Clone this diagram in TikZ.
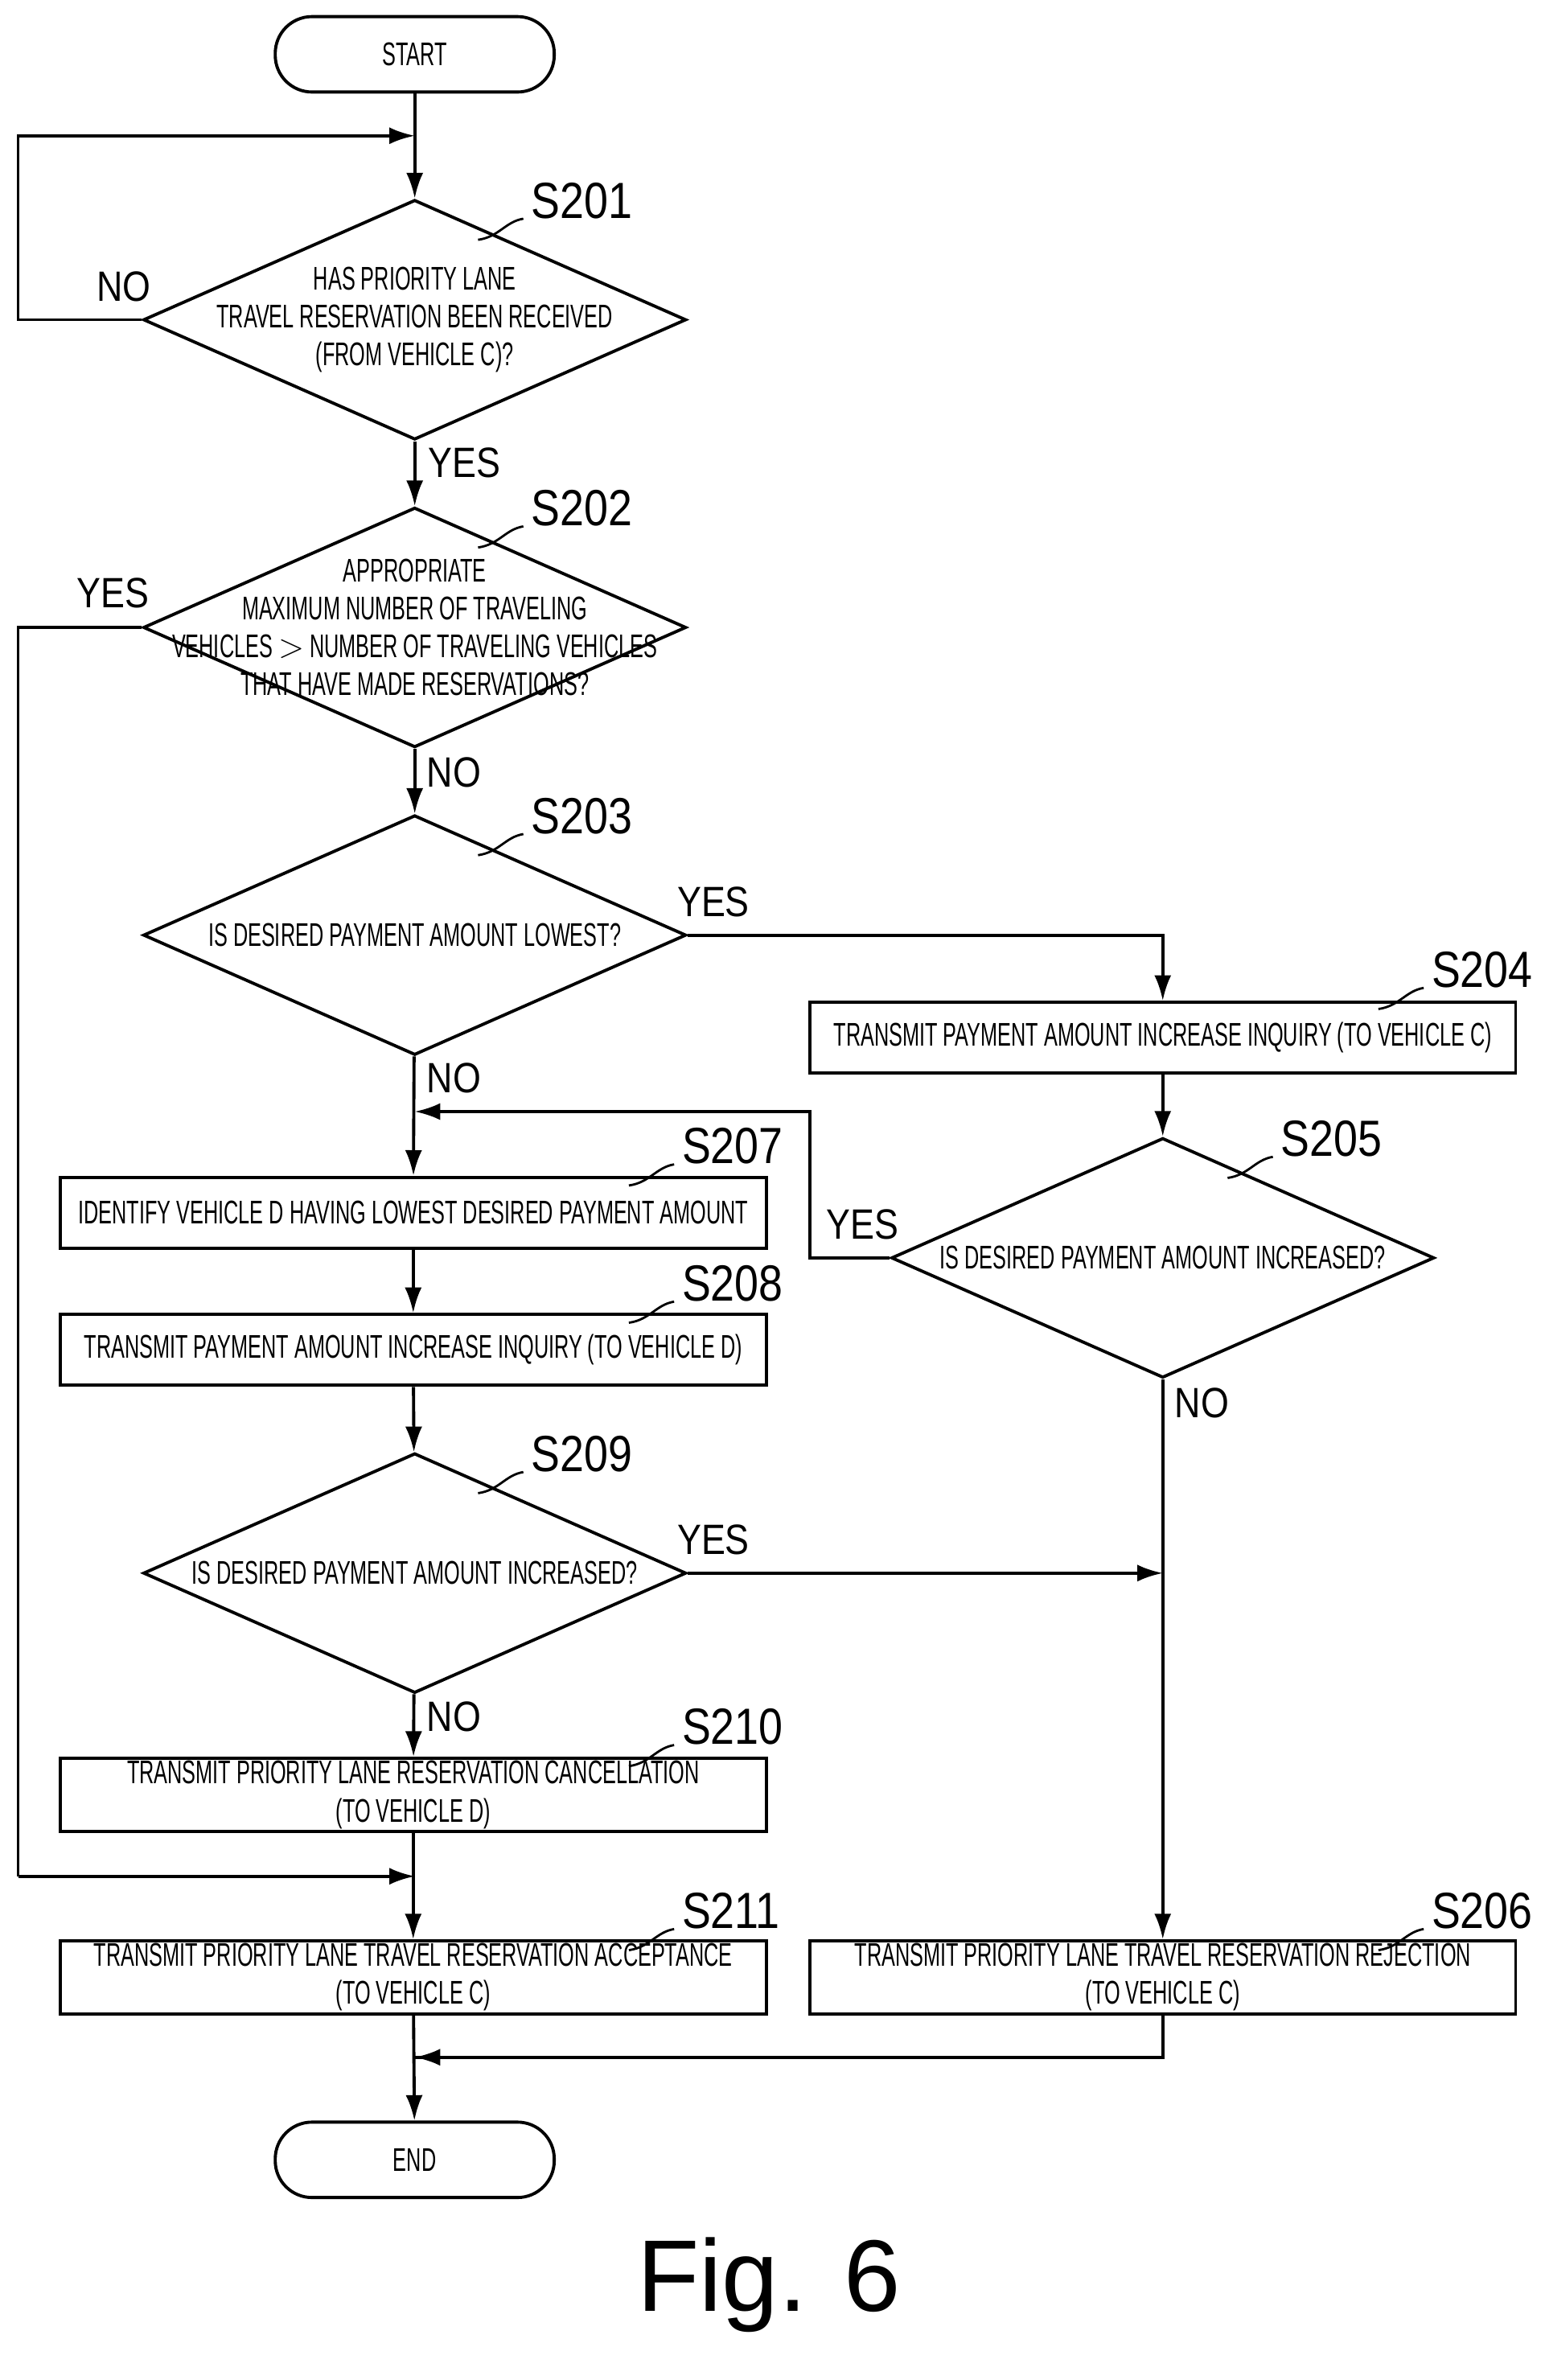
\documentclass[tikz,border=0pt]{standalone}
\usepackage{fontspec}
\setmainfont{Liberation Sans}
\newfontfamily\narrowfont[FakeStretch=0.62]{Liberation Sans}
\newfontfamily\labelfont[FakeStretch=0.85]{Liberation Sans}
\usetikzlibrary{shapes.geometric,arrows.meta}
\begin{document}
\begin{tikzpicture}[x=0.01875cm, y=-0.01875cm, line width=1.1pt,
	every node/.style={font=\narrowfont\fontsize{11.6}{13.4}\selectfont, align=center},
	term/.style={draw, rounded corners=13pt, minimum width=185*0.01875cm, minimum height=50*0.01875cm},
	box/.style={draw, minimum width=468*0.01875cm, minimum height=47*0.01875cm, inner sep=1pt},
	dec/.style={draw, diamond, minimum width=360*0.01875cm, minimum height=159*0.01875cm, inner sep=0pt},
	lab/.style={font=\labelfont\fontsize{18}{20}\selectfont, anchor=west},
	yn/.style={font=\labelfont\fontsize{15}{16}\selectfont},
	arr/.style={-{Latex[length=9pt,width=6pt]}}]
	\useasboundingbox (0,0) rectangle (1024,1578);
	% terminals
	\node[term] (start) at (275,36) {START};
	\node[term] (end) at (275,1432) {END};
	% decisions
	\node[dec] (s201) at (275,212) {};
	\node[dec] (s202) at (275,416) {};
	\node[dec] (s203) at (275,620) {};
	\node[dec] (s205) at (771,834) {};
	\node[dec] (s209) at (275,1043) {};
	\node at (s201) {HAS PRIORITY LANE\\TRAVEL RESERVATION BEEN RECEIVED\\(FROM VEHICLE C)?};
	\node at (s202) {APPROPRIATE\\MAXIMUM NUMBER OF TRAVELING\\VEHICLES $>$ NUMBER OF TRAVELING VEHICLES\\THAT HAVE MADE RESERVATIONS?};
	\node at (s203) {IS DESIRED PAYMENT AMOUNT LOWEST?};
	\node at (s205) {IS DESIRED PAYMENT AMOUNT INCREASED?};
	\node at (s209) {IS DESIRED PAYMENT AMOUNT INCREASED?};
	% processes
	\node[box] (s204) at (771,688) {TRANSMIT PAYMENT AMOUNT INCREASE INQUIRY (TO VEHICLE C)};
	\node[box] (s207) at (274,804) {IDENTIFY VEHICLE D HAVING LOWEST DESIRED PAYMENT AMOUNT};
	\node[box] (s208) at (274,895) {TRANSMIT PAYMENT AMOUNT INCREASE INQUIRY (TO VEHICLE D)};
	\node[box] (s210) at (274,1190) {TRANSMIT PRIORITY LANE RESERVATION CANCELLATION\\(TO VEHICLE D)};
	\node[box] (s211) at (274,1311) {TRANSMIT PRIORITY LANE TRAVEL RESERVATION ACCEPTANCE\\(TO VEHICLE C)};
	\node[box] (s206) at (771,1311) {TRANSMIT PRIORITY LANE TRAVEL RESERVATION REJECTION\\(TO VEHICLE C)};
	% step labels
	\foreach \n/\x/\y/\t in {s201/345/133/S201, s202/345/337/S202, s203/345/541/S203, s209/345/964/S209,
		s205/842/755/S205, s204/942/643/S204, s207/445/760/S207, s208/445/851/S208,
		s210/445/1145/S210, s211/445/1267/S211, s206/942/1267/S206}{
		\node[lab] (l\n) at (\x,\y) {\t};
		\draw[line width=0.8pt] (\x+2,\y+12) .. controls (\x-10,\y+14) and (\x-14,\y+24) .. (\x-28,\y+26);
	}
	% coordinates for connectors
	\coordinate (loop) at (12,90);
	\coordinate (top) at (275,90);
	\coordinate (yleft) at (12,1244);
	\coordinate (join) at (275,1244);
	\coordinate (back) at (275,737);
	\coordinate (merge) at (771,1043);
	\coordinate (endjoin) at (275,1364);
	% connectors
	\draw (start) -- (top);
	\draw[arr] (s201.west) -| (loop) -- (top);
	\draw[arr] (top) -- (s201);
	\draw[arr] (s201) -- (s202);
	\draw (s202.west) -| (yleft);
	\draw[arr] (yleft) -- (join);
	\draw[arr] (s202) -- (s203);
	\draw[arr] (s203.east) -| (s204);
	\draw[arr] (s204) -- (s205);
	\draw[arr] (s205.west) -| (537,737) -- (back);
	\draw[arr] (s203) -- (s207);
	\draw[arr] (s207) -- (s208);
	\draw[arr] (s208) -- (s209);
	\draw[arr] (s209.east) -- (merge);
	\draw[arr] (s205) -- (s206);
	\draw[arr] (s209) -- (s210);
	\draw[arr] (s210) -- (s211);
	\draw (s206.south) |- (endjoin);
	\draw[arr] (s211) -- (end);
	\draw[arr] (771,1364) -- (endjoin);
	% yes/no
	\node[yn] at (82,190) {NO};
	\node[yn] at (308,307) {YES};
	\node[yn] at (75,393) {YES};
	\node[yn] at (301,512) {NO};
	\node[yn] at (473,598) {YES};
	\node[yn] at (301,715) {NO};
	\node[yn] at (572,812) {YES};
	\node[yn] at (797,930) {NO};
	\node[yn] at (473,1021) {YES};
	\node[yn] at (301,1138) {NO};
	\node[font=\fontsize{36}{40}\selectfont] (fig) at (510,1515) {Fig. 6};
\end{tikzpicture}
\end{document}
